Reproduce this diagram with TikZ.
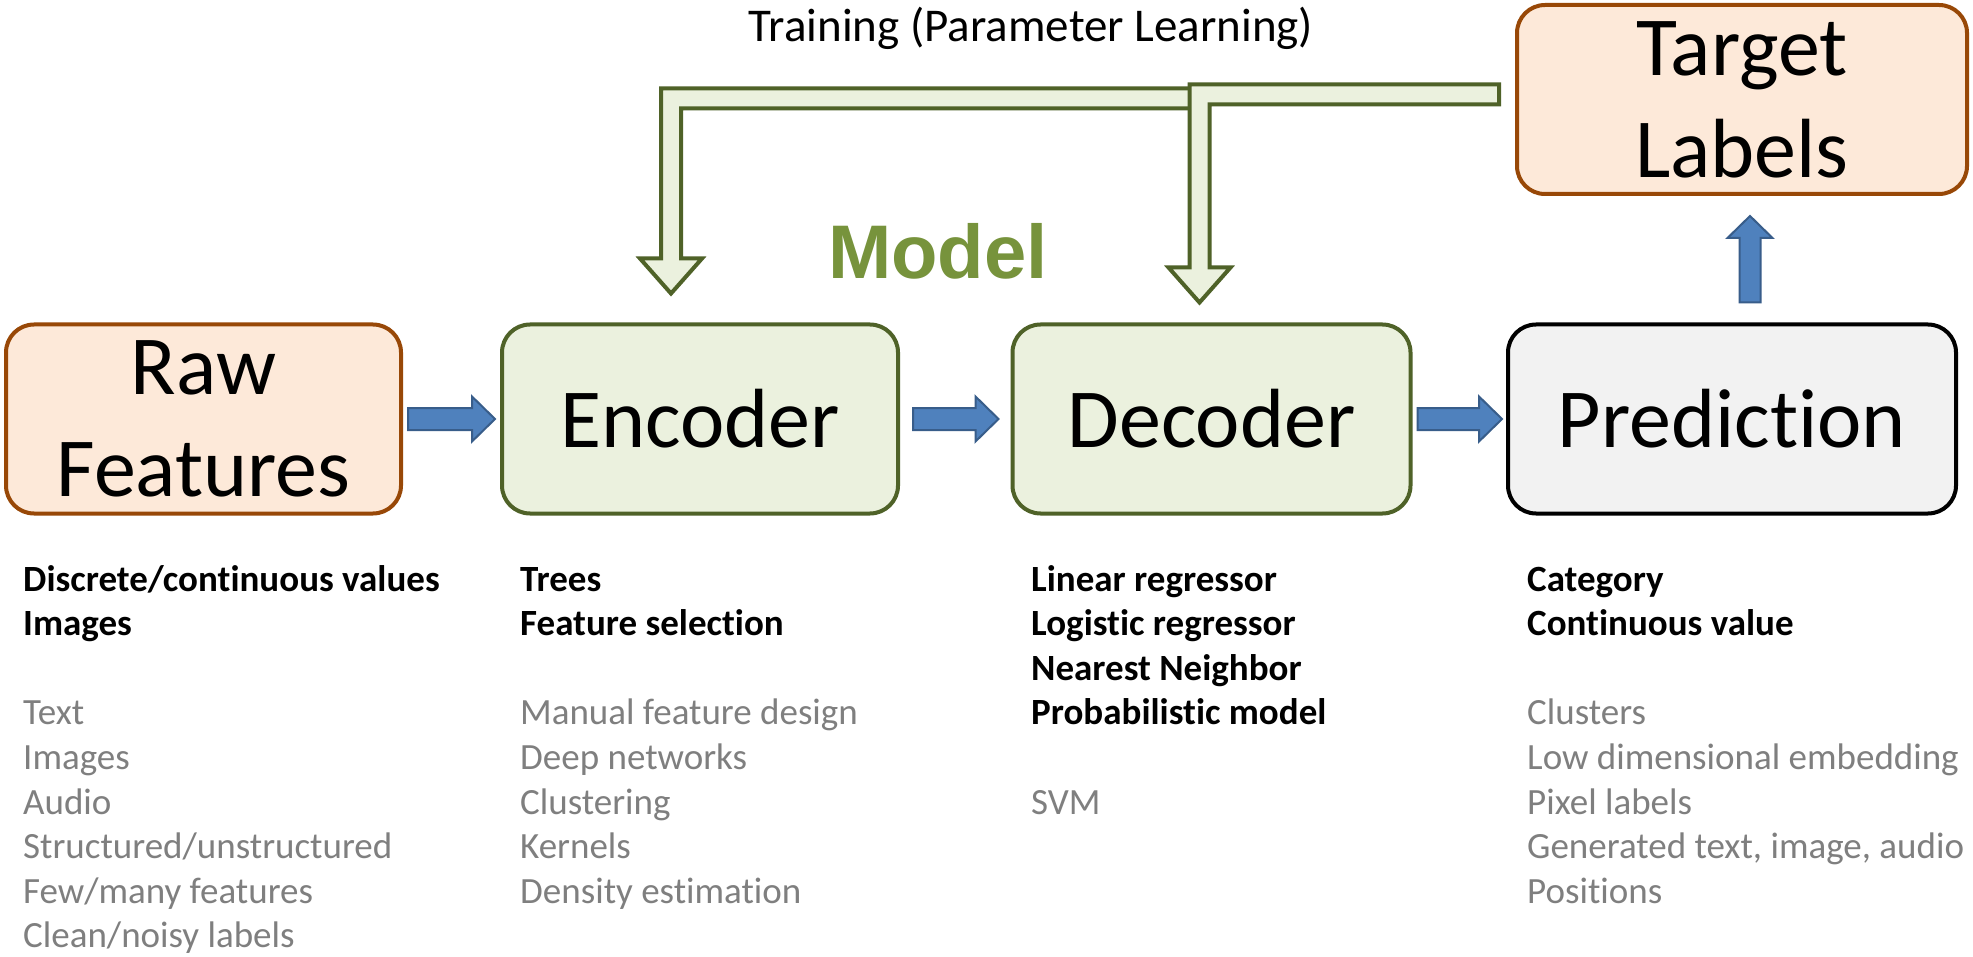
\documentclass[tikz,border=0pt]{standalone}
\usepackage{fontspec}
\setmainfont[Ligatures=NoCommon]{Carlito}
\newfontfamily\arialfont{Liberation Sans}
\usetikzlibrary{calc}
\definecolor{orfill}{HTML}{FDE9D9}
\definecolor{ordraw}{HTML}{984807}
\definecolor{grfill}{HTML}{EBF1DE}
\definecolor{grdraw}{HTML}{4F6228}
\definecolor{prfill}{HTML}{F2F2F2}
\definecolor{blfill}{HTML}{4F81BD}
\definecolor{bldraw}{HTML}{385D8A}
\definecolor{modelgreen}{HTML}{77933C}
\definecolor{txtgray}{HTML}{7F7F7F}
\newcommand\blockarrowh[2]{%
  \path[bluearrow] let \p1=#1, \p2=#2 in
    (\x1,\y1+11pt) -- (\x2-23pt,\y1+11pt) -- (\x2-23pt,\y1+22.5pt) -- (\x2,\y1)
    -- (\x2-23pt,\y1-22.5pt) -- (\x2-23pt,\y1-11pt) -- (\x1,\y1-11pt) -- cycle;}
\newcommand\blockarrowv[2]{%
  \path[bluearrow] let \p1=#1, \p2=#2 in
    (\x1-10.5pt,\y1) -- (\x1-10.5pt,\y2-22pt) -- (\x1-22.5pt,\y2-22pt) -- (\x1,\y2)
    -- (\x1+22.5pt,\y2-22pt) -- (\x1+10.5pt,\y2-22pt) -- (\x1+10.5pt,\y1) -- cycle;}
% #1 start (right end of horizontal bar), #2 tip
\newcommand\trainarrow[2]{%
  \path[trainarrowst] let \p1=#1, \p2=#2 in
    (\x1,\y1+10pt) -- (\x2-10pt,\y1+10pt) -- (\x2-10pt,\y2+35pt) -- (\x2-31pt,\y2+35pt)
    -- (\x2,\y2) -- (\x2+31pt,\y2+35pt) -- (\x2+10pt,\y2+35pt) -- (\x2+10pt,\y1-10pt)
    -- (\x1,\y1-10pt) -- cycle;}
\begin{document}
\begin{tikzpicture}[x=1pt,y=-1pt,
  box/.style={rounded corners=28pt, line width=4pt, align=center,
    font=\fontsize{84}{102}\selectfont, inner sep=0pt},
  orbox/.style={box, draw=ordraw, fill=orfill},
  grbox/.style={box, draw=grdraw, fill=grfill},
  prbox/.style={box, draw=black, fill=prfill},
  bluearrow/.style={draw=bldraw, fill=blfill, line width=2pt, line join=miter},
  trainarrowst/.style={draw=grdraw, fill=grfill, line width=4pt, line join=miter},
  boldline/.style={anchor=base west, font=\fontsize{37}{44}\selectfont\bfseries, text=black, inner sep=0pt},
  grayline/.style={anchor=base west, font=\fontsize{37}{44}\selectfont, text=txtgray, inner sep=0pt}]
\useasboundingbox[fill=white] (0,0) rectangle (1973,957);

% main boxes
\node[orbox, minimum width=395pt, minimum height=189pt] (raw) at (203.5,419) {Raw\\Features};
\node[grbox, minimum width=396pt, minimum height=189pt] (enc) at (700,419) {Encoder};
\node[grbox, minimum width=398pt, minimum height=189pt] (dec) at (1211.5,419) {Decoder};
\node[prbox, minimum width=448pt, minimum height=189pt] (pred) at (1732,419) {Prediction};
\node[orbox, minimum width=450pt, minimum height=189pt] (target) at (1742,99.5) {Target\\Labels};

% titles
\node[font=\fontsize{47}{56}\selectfont, anchor=base, inner sep=0pt] (training) at (1031,42) {Training (Parameter Learning)};
\node[font=\arialfont\bfseries\fontsize{76}{90}\selectfont, text=modelgreen, anchor=base, inner sep=0pt] (model) at (938,279) {Model};

% training arrows
\trainarrow{($(dec.north)+(-16,-224)$)}{($(enc.north)+(-29,-29)$)}
\trainarrow{($(target.west)+(-16,-5)$)}{($(dec.north)+(-12,-20)$)}

% blue arrows
\blockarrowh{($(raw.east)+(5,0)$)}{($(enc.west)+(-5,0)$)}
\blockarrowh{($(enc.east)+(13,0)$)}{($(dec.west)+(-12,0)$)}
\blockarrowh{($(dec.east)+(5,0)$)}{($(pred.west)+(-4,0)$)}
\blockarrowv{($(pred.north)+(18,-20)$)}{($(target.south)+(0,20)$)}

% lists
\foreach \t [count=\i from 0] in {Discrete/continuous values, Images}
  \node[boldline] (rawb\i) at (23,{591+44.6*\i}) {\t};
\foreach \t [count=\i from 3] in {Text, Images, Audio, Structured/unstructured, Few/many features, Clean/noisy labels}
  \node[grayline] (rawg\i) at (23,{591+44.6*\i}) {\t};

\foreach \t [count=\i from 0] in {Trees, Feature selection}
  \node[boldline] (encb\i) at (520,{591+44.6*\i}) {\t};
\foreach \t [count=\i from 3] in {Manual feature design, Deep networks, Clustering, Kernels, Density estimation}
  \node[grayline] (encg\i) at (520,{591+44.6*\i}) {\t};

\foreach \t [count=\i from 0] in {Linear regressor, Logistic regressor, Nearest Neighbor, Probabilistic model}
  \node[boldline] (decb\i) at (1031,{591+44.6*\i}) {\t};
\node[grayline] (decg5) at (1031,{591+44.6*5}) {SVM};

\foreach \t [count=\i from 0] in {Category, Continuous value}
  \node[boldline] (predb\i) at (1527,{591+44.6*\i}) {\t};
\foreach \t [count=\i from 3] in {Clusters, Low dimensional embedding, Pixel labels, {Generated text, image, audio}, Positions}
  \node[grayline] (predg\i) at (1527,{591+44.6*\i}) {\t};
\end{tikzpicture}
\end{document}
